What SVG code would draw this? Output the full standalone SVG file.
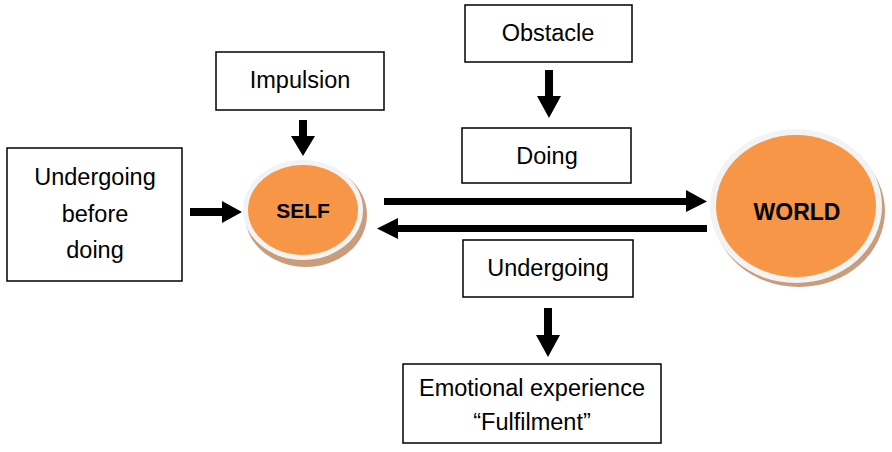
<svg xmlns="http://www.w3.org/2000/svg" width="892" height="452" viewBox="0 0 892 452">
<style>
.box{fill:#fff;stroke:#000;stroke-width:1.5}
.t{font-family:"Liberation Sans",Arial,sans-serif;font-size:23.5px;fill:#000;text-anchor:middle}
.b{font-family:"Liberation Sans",Arial,sans-serif;font-size:21px;font-weight:bold;fill:#000;text-anchor:middle}
.shadow{fill:#c99d7b}
.rim{fill:#f3f3f3}
.core{fill:#f79646}
.arr{fill:#000}
</style>
<rect width="892" height="452" fill="#fff"/>
<g id="undergoing-before">
<rect class="box" x="7" y="148" width="175" height="133"/>
<text class="t" x="95" y="185">Undergoing</text>
<text class="t" x="95" y="222">before</text>
<text class="t" x="95" y="258">doing</text>
</g>
<g id="impulsion">
<rect class="box" x="216" y="52" width="168" height="58"/>
<text class="t" x="300" y="88">Impulsion</text>
</g>
<g id="obstacle">
<rect class="box" x="465" y="5" width="167" height="57"/>
<text class="t" x="548" y="41">Obstacle</text>
</g>
<g id="doing">
<rect class="box" x="462" y="128" width="169" height="55"/>
<text class="t" x="547" y="164">Doing</text>
</g>
<g id="undergoing">
<rect class="box" x="463" y="240" width="170" height="57"/>
<text class="t" x="548" y="276">Undergoing</text>
</g>
<g id="emotional">
<rect class="box" x="403" y="364" width="258" height="79"/>
<text class="t" x="532" y="396">Emotional experience</text>
<text class="t" x="532" y="430">“Fulfilment”</text>
</g>
<g id="self">
<ellipse class="shadow" cx="306" cy="215" rx="61" ry="52"/>
<ellipse class="rim" cx="303" cy="210" rx="60" ry="50"/>
<ellipse class="core" cx="303" cy="210" rx="55" ry="45"/>
<text class="b" x="303" y="218">SELF</text>
</g>
<g id="world">
<ellipse class="shadow" cx="799" cy="211" rx="86" ry="76"/>
<ellipse class="rim" cx="796" cy="206" rx="86" ry="77"/>
<ellipse class="core" cx="796" cy="206" rx="80" ry="71"/>
<text class="b" x="797" y="220" style="font-size:23px">WORLD</text>
</g>
<g id="connectors">
<polygon class="arr" points="190,208 222,208 222,201 242,212 222,223 222,216 190,216"/>
<polygon class="arr" points="299,120 307,120 307,136 315,136 303,156 291,136 299,136"/>
<polygon class="arr" points="545,70 553,70 553,96 561,96 549,118 537,96 545,96"/>
<polygon class="arr" points="384,198 686,198 686,190 707,201.5 686,212 686,205 384,205"/>
<polygon class="arr" points="707,225 398,225 398,218 377,228.5 398,239 398,232 707,232"/>
<polygon class="arr" points="544,308 552,308 552,335 560,335 548,357 536,335 544,335"/>
</g>
</svg>
